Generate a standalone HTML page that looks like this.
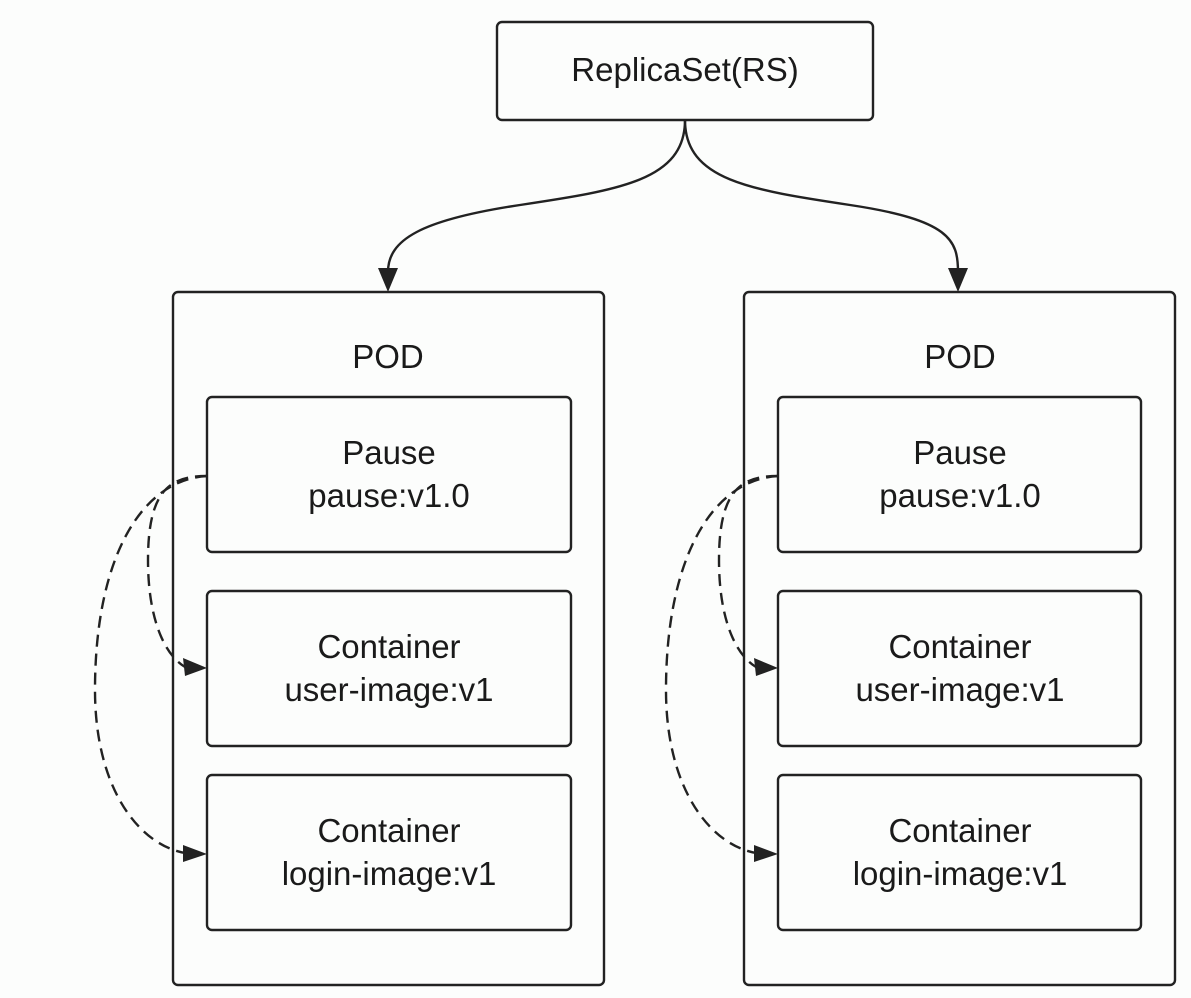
<!DOCTYPE html>
<html><head><meta charset="utf-8"><style>
html,body{margin:0;padding:0;background:#fcfdfc;}
svg{display:block;}
text{font-family:"Liberation Sans",Arial,sans-serif;font-size:33px;fill:#1a1a1a;text-anchor:middle;}
</style></head><body>
<svg width="1191" height="998" viewBox="0 0 1191 998" xmlns="http://www.w3.org/2000/svg">
<g fill="none" stroke="#222" stroke-width="2.4">
<rect x="497" y="22" width="376" height="98" rx="5"/>
<rect x="173" y="292" width="431" height="693" rx="5"/>
<rect x="744" y="292" width="431" height="693" rx="5"/>
<rect x="207" y="397" width="364" height="155" rx="5"/>
<rect x="207" y="591" width="364" height="155" rx="5"/>
<rect x="207" y="775" width="364" height="155" rx="5"/>
<rect x="778" y="397" width="363" height="155" rx="5"/>
<rect x="778" y="591" width="363" height="155" rx="5"/>
<rect x="778" y="775" width="363" height="155" rx="5"/>
<path d="M685 120 C685 180 620 190 520 205 C420 220 388 240 388 272"/>
<path d="M685 120 C685 180 750 190 850 205 C950 220 958 240 958 272"/>
</g>
<g fill="#222">
<polygon points="378,268 398,268 388,292"/>
<polygon points="948,268 968,268 958,292"/>
</g>
<g fill="none" stroke="#222" stroke-width="2.4" stroke-dasharray="12,7">
<path d="M207 476 C170 476 148 490 148 560 C148 620 165 655 185 667"/>
<path d="M207 476 C140 480 95 560 95 690 C95 790 140 845 185 853"/>
<path d="M778 476 C741 476 719 490 719 560 C719 620 736 655 756 667"/>
<path d="M778 476 C711 480 666 560 666 690 C666 790 711 845 756 853"/>
</g>
<g fill="#222">
<polygon points="207,668 183,658 185,676"/>
<polygon points="207,854 183,845 183,862"/>
<polygon points="778,668 754,658 756,676"/>
<polygon points="778,854 754,845 754,862"/>
</g>
<text x="685" y="81">ReplicaSet(RS)</text>
<text x="388" y="368">POD</text>
<text x="960" y="368">POD</text>
<text x="389" y="464">Pause</text>
<text x="389" y="507">pause:v1.0</text>
<text x="389" y="658">Container</text>
<text x="389" y="701">user-image:v1</text>
<text x="389" y="842">Container</text>
<text x="389" y="885">login-image:v1</text>
<text x="960" y="464">Pause</text>
<text x="960" y="507">pause:v1.0</text>
<text x="960" y="658">Container</text>
<text x="960" y="701">user-image:v1</text>
<text x="960" y="842">Container</text>
<text x="960" y="885">login-image:v1</text>
</svg>
</body></html>
